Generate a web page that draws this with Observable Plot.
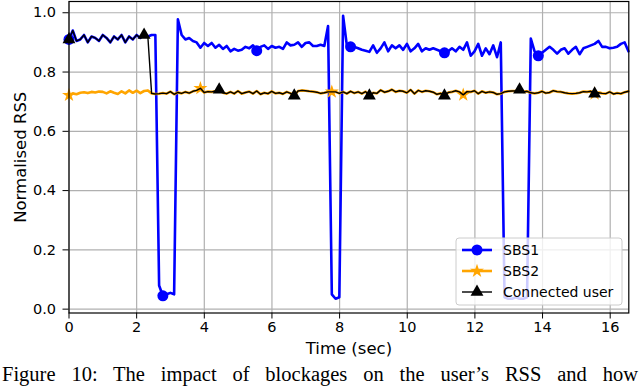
<!DOCTYPE html>
<html>
<head>
<meta charset="utf-8">
<script src="https://cdn.jsdelivr.net/npm/d3@7"></script>
<script src="https://cdn.jsdelivr.net/npm/@observablehq/plot@0.6"></script>
<style>
  html, body { margin: 0; padding: 0; background: #fff; overflow: hidden; }
  #wrap { position: relative; width: 640px; height: 389px; }
  #caption { position: absolute; left: 2px; top: 362px; width: 636px;
    font-family: "Liberation Serif", "DejaVu Serif", serif; font-size: 20.5px;
    text-align: justify; text-align-last: justify; white-space: nowrap; line-height: 24px; color: #000; }
</style>
</head>
<body>
<div id="wrap"><div id="chart"></div><div id="caption">Figure 10: The impact of blockages on the user’s RSS and how</div></div>
<script>
// ---- data ----
const sampleInterval = 0.111; // seconds between samples
const seriesNames = ["SBS1", "SBS2", "Connected user"];
const sbs1 = [
  0.910, 0.940, 0.905, 0.910, 0.925, 0.900, 0.920, 0.915, 0.905, 0.925,
  0.915, 0.900, 0.920, 0.910, 0.925, 0.900, 0.920, 0.910, 0.925, 0.915,
  0.925, 0.920, 0.925, 0.925, 0.080, 0.045, 0.050, 0.055, 0.050, 0.978,
  0.925, 0.910, 0.915, 0.905, 0.900, 0.882, 0.898, 0.888, 0.898, 0.882,
  0.892, 0.878, 0.888, 0.870, 0.878, 0.872, 0.875, 0.885, 0.880, 0.890,
  0.872, 0.885, 0.890, 0.878, 0.888, 0.882, 0.885, 0.878, 0.900, 0.890,
  0.892, 0.900, 0.885, 0.898, 0.900, 0.888, 0.888, 0.892, 0.888, 0.955,
  0.050, 0.035, 0.040, 0.990, 0.890, 0.885, 0.885, 0.880, 0.875, 0.872,
  0.868, 0.890, 0.865, 0.880, 0.900, 0.870, 0.890, 0.880, 0.890, 0.875,
  0.895, 0.870, 0.880, 0.895, 0.870, 0.880, 0.875, 0.880, 0.875, 0.870,
  0.865, 0.870, 0.880, 0.870, 0.885, 0.875, 0.900, 0.855, 0.870, 0.895,
  0.855, 0.880, 0.860, 0.890, 0.850, 0.900, 0.040, 0.035, 0.035, 0.040,
  0.035, 0.035, 0.040, 0.913, 0.870, 0.855, 0.865, 0.875, 0.885, 0.875,
  0.862, 0.875, 0.880, 0.862, 0.875, 0.885, 0.860, 0.880, 0.885, 0.890,
  0.895, 0.905, 0.885, 0.885, 0.880, 0.882, 0.885, 0.895, 0.900, 0.870
];
const sbs2 = [
  0.722, 0.728, 0.725, 0.730, 0.732, 0.729, 0.733, 0.731, 0.734, 0.733,
  0.728, 0.735, 0.730, 0.726, 0.735, 0.728, 0.738, 0.730, 0.737, 0.729,
  0.736, 0.738, 0.728, 0.726, 0.727, 0.729, 0.727, 0.734, 0.725, 0.731,
  0.728, 0.733, 0.729, 0.735, 0.738, 0.745, 0.731, 0.734, 0.733, 0.736,
  0.740, 0.730, 0.727, 0.733, 0.727, 0.736, 0.727, 0.731, 0.734, 0.727,
  0.736, 0.725, 0.730, 0.727, 0.735, 0.728, 0.730, 0.726, 0.733, 0.728,
  0.720, 0.736, 0.738, 0.737, 0.735, 0.734, 0.732, 0.728, 0.730, 0.733,
  0.733, 0.733, 0.728, 0.733, 0.727, 0.735, 0.729, 0.733, 0.727, 0.734,
  0.720, 0.730, 0.728, 0.739, 0.732, 0.735, 0.741, 0.733, 0.737, 0.735,
  0.730, 0.740, 0.727, 0.738, 0.733, 0.737, 0.735, 0.732, 0.725, 0.728,
  0.720, 0.731, 0.733, 0.737, 0.733, 0.723, 0.734, 0.733, 0.737, 0.727,
  0.735, 0.730, 0.733, 0.731, 0.725, 0.727, 0.733, 0.735, 0.736, 0.737,
  0.740, 0.733, 0.735, 0.730, 0.728, 0.730, 0.735, 0.729, 0.731, 0.737,
  0.734, 0.733, 0.730, 0.728, 0.727, 0.728, 0.730, 0.734, 0.733, 0.735,
  0.727, 0.730, 0.728, 0.727, 0.733, 0.726, 0.729, 0.727, 0.732, 0.735
];
const handoverIndex = 22; // user connected to SBS1 before this sample, SBS2 after
const xTicks = [0, 2, 4, 6, 8, 10, 12, 14, 16];
const yTicks = [0.0, 0.2, 0.4, 0.6, 0.8, 1.0];
const markEvery = {"SBS1": 25, "SBS2": 35, "Connected user": 20};

// ---- build rows ----
const time = sbs1.map((_, i) => i * sampleInterval);
const connected = sbs1.map((v, i) => i < handoverIndex ? v : sbs2[i]);
const rows = (name, vals) => vals.map((v, i) => ({series: name, i, t: time[i], v}));
const r1 = rows("SBS1", sbs1), r2 = rows("SBS2", sbs2), r3 = rows("Connected user", connected);
const marks = (r, name) => r.filter(d => d.i % markEvery[name] === 0);

const colors = {"SBS1": "#0000ff", "SBS2": "#ffa500", "Connected user": "#000000"};
const widths = {"SBS1": 2.6, "SBS2": 2.6, "Connected user": 1.4};
const symbols = {"SBS1": "circle", "SBS2": "star", "Connected user": "triangle"};
const radii = {"SBS1": 5.5, "SBS2": 4.4, "Connected user": 4.8};

const chart = Plot.plot({
  width: 640, height: 364,
  marginLeft: 68.5, marginRight: 11.7, marginTop: 1, marginBottom: 51.5,
  style: {fontFamily: "DejaVu Sans", fontSize: "14.5px", color: "#000", background: "#fff"},
  x: {domain: [0, 16.55], ticks: xTicks, label: null},
  y: {domain: [-0.013, 1.038], ticks: yTicks, label: null},
  marks: [
    Plot.gridX(xTicks, {stroke: "#b0b0b0", strokeOpacity: 1, strokeWidth: 1.2}),
    Plot.gridY(yTicks, {stroke: "#b0b0b0", strokeOpacity: 1, strokeWidth: 1.2}),
    Plot.line(r1, {x: "t", y: "v", stroke: colors["SBS1"], strokeWidth: widths["SBS1"]}),
    Plot.dot(marks(r1, "SBS1"), {x: "t", y: "v", symbol: symbols["SBS1"], r: radii["SBS1"], fill: colors["SBS1"], stroke: "none"}),
    Plot.line(r2, {x: "t", y: "v", stroke: colors["SBS2"], strokeWidth: widths["SBS2"]}),
    Plot.dot(marks(r2, "SBS2"), {x: "t", y: "v", symbol: symbols["SBS2"], r: radii["SBS2"], fill: colors["SBS2"], stroke: "none"}),
    Plot.line(r3, {x: "t", y: "v", stroke: colors["Connected user"], strokeWidth: widths["Connected user"]}),
    Plot.dot(marks(r3, "Connected user"), {x: "t", y: "v", symbol: symbols["Connected user"], r: radii["Connected user"], fill: colors["Connected user"], stroke: "none"}),
    Plot.axisX(xTicks, {tickSize: 6, tickPadding: 3, label: null, fontSize: 14.5}),
    Plot.axisY(yTicks, {tickSize: 6, tickPadding: 7, tickFormat: d => d.toFixed(1), label: null, fontSize: 14.5}),
    Plot.frame({stroke: "#000", strokeWidth: 1.2}),
    Plot.text(["Time (sec)"], {frameAnchor: "bottom", textAnchor: "middle", dy: 41, fontSize: 16.5, fill: "#000"}),
    Plot.text(["Normalised RSS"], {frameAnchor: "left", textAnchor: "middle", dx: -48, rotate: -90, fontSize: 16.5, fill: "#000"})
  ]
});
document.getElementById("chart").appendChild(chart);

// ---- legend (inside plot, lower right) ----
const svg = d3.select(chart);
const lg = svg.append("g").attr("font-family", "DejaVu Sans").attr("font-size", 14).attr("text-anchor", "start");
lg.append("rect").attr("x", 456).attr("y", 238).attr("width", 166).attr("height", 67)
  .attr("rx", 3).attr("fill", "#fff").attr("fill-opacity", 0.8).attr("stroke", "#cccccc");
const symMap = {circle: d3.symbolCircle, star: d3.symbolStar, triangle: d3.symbolTriangle};
seriesNames.forEach((name, k) => {
  const y = 250 + k * 21;
  lg.append("line").attr("x1", 462).attr("x2", 492).attr("y1", y).attr("y2", y)
    .attr("stroke", colors[name]).attr("stroke-width", widths[name]);
  const r = radii[name];
  lg.append("path").attr("transform", `translate(477,${y})`)
    .attr("d", d3.symbol(symMap[symbols[name]], r * r * Math.PI)())
    .attr("fill", colors[name]);
  lg.append("text").attr("x", 503).attr("y", y).attr("dy", "0.35em").attr("fill", "#000").text(name);
});
</script>
</body>
</html>
